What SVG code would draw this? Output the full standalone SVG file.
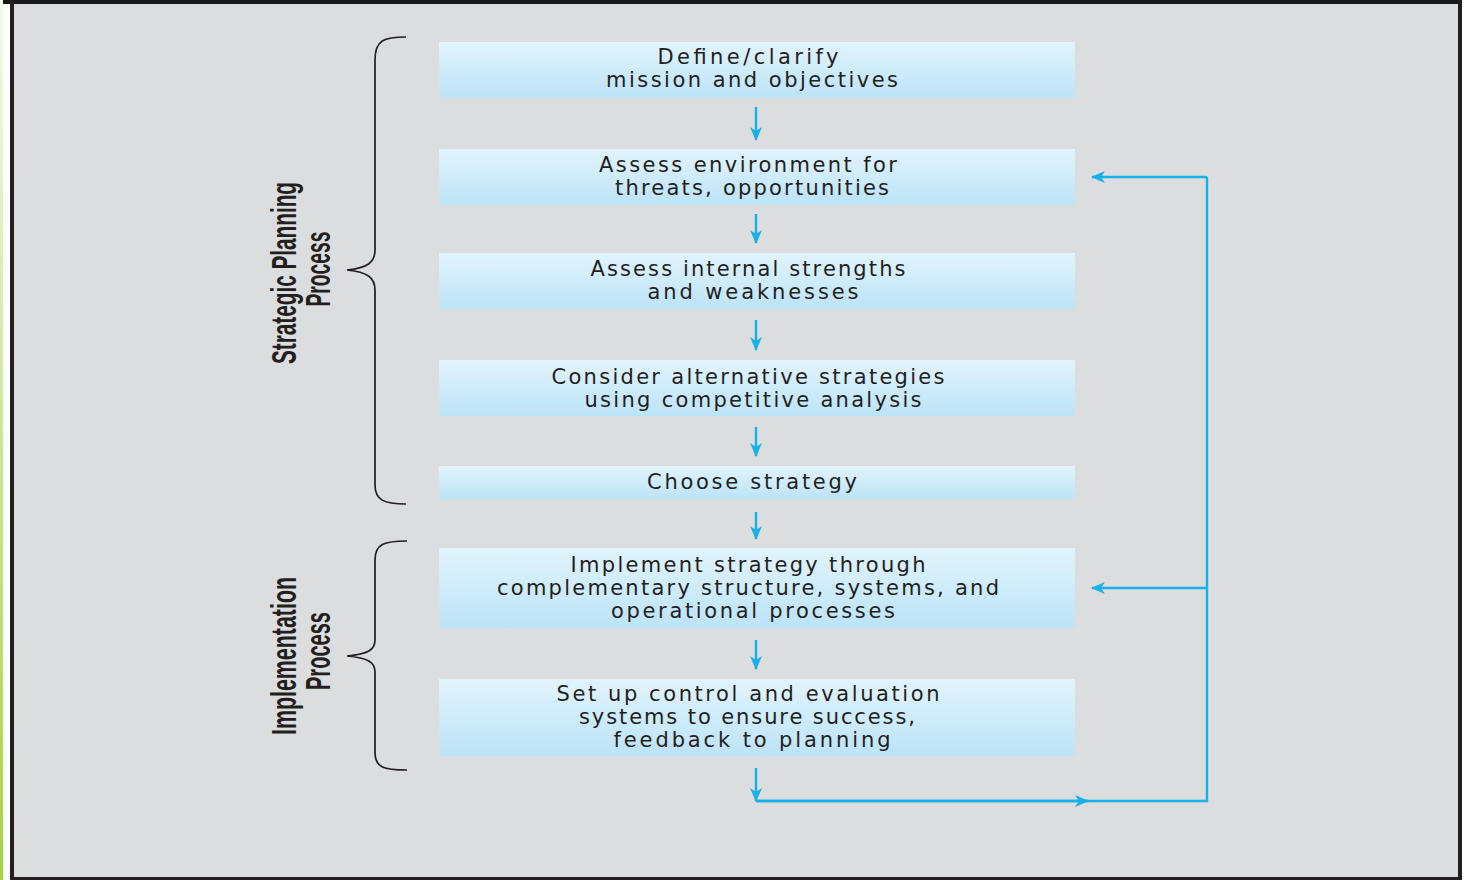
<svg xmlns="http://www.w3.org/2000/svg" width="1466" height="880" viewBox="0 0 1466 880">
  <defs>
    <linearGradient id="boxFill" x1="0" y1="0" x2="0" y2="1">
      <stop offset="0" stop-color="#e2f4fd"/>
      <stop offset="1" stop-color="#bce3f7"/>
    </linearGradient>
    <linearGradient id="edge" x1="0" y1="0" x2="0" y2="1">
      <stop offset="0" stop-color="#f4f9ea"/>
      <stop offset="1" stop-color="#a6d43f"/>
    </linearGradient>
    <marker id="head" viewBox="0 0 14 12" refX="13" refY="6" markerWidth="14" markerHeight="12" markerUnits="userSpaceOnUse" orient="auto">
      <path d="M0,0 L14,6 L0,12 L4,6 Z" fill="#16b0ea"/>
    </marker>
  </defs>
  <style>
    .box { fill: url(#boxFill); }
    .label { font-family: "DejaVu Sans", "Liberation Sans", sans-serif; font-size: 21px; fill: #231f20; text-anchor: middle; }
    .side { font-family: "Liberation Sans", "DejaVu Sans", sans-serif; font-weight: bold; font-size: 35px; fill: #231f20; text-anchor: middle; }
    .flow { stroke: #16b0ea; stroke-width: 2.4; fill: none; }
    .brace { stroke: #231f20; stroke-width: 1.7; fill: none; }
  </style>

  <!-- frame -->
  <rect x="0" y="0" width="1466" height="880" fill="#ffffff"/>
  <rect x="0" y="0" width="3" height="880" fill="url(#edge)"/>
  <rect x="10" y="2" width="1452" height="878" fill="#dcdddf"/>
  <rect x="3" y="0" width="1459" height="4" fill="#161819"/>
  <rect x="10" y="0" width="4" height="880" fill="#231f20"/>
  <rect x="1458" y="0" width="4" height="880" fill="#231f20"/>
  <rect x="10" y="877" width="1452" height="3" fill="#231f20"/>

  <!-- side labels and braces -->
  <g id="strategic-planning">
    <path class="brace" d="M406,37 C384,37 375,40 375,60 L375,250 C375,262 368,268 347,270 C368,272 375,278 375,290 L375,485 C375,500 384,504 406,504"/>
    <text class="side" transform="translate(296,273) rotate(-90)" textLength="182" lengthAdjust="spacingAndGlyphs">Strategic Planning</text>
    <text class="side" transform="translate(330,269) rotate(-90)" textLength="75" lengthAdjust="spacingAndGlyphs">Process</text>
  </g>
  <g id="implementation">
    <path class="brace" d="M407,541 C384,541 375,544 375,560 L375,640 C375,650 368,654 347,656 C368,658 375,662 375,672 L375,752 C375,768 384,770 407,770"/>
    <text class="side" transform="translate(296,656) rotate(-90)" textLength="158" lengthAdjust="spacingAndGlyphs">Implementation</text>
    <text class="side" transform="translate(330,651) rotate(-90)" textLength="78" lengthAdjust="spacingAndGlyphs">Process</text>
  </g>

  <!-- steps -->
  <g id="define">
    <rect class="box" x="439" y="42" width="636" height="56"/>
    <text class="label" x="748" y="64" textLength="181" lengthAdjust="spacing">Define/clarify</text>
    <text class="label" x="752" y="87" textLength="292" lengthAdjust="spacing">mission and objectives</text>
  </g>
  <g id="assess-env">
    <rect class="box" x="439" y="149" width="636" height="56"/>
    <text class="label" x="748" y="172" textLength="298" lengthAdjust="spacing">Assess environment for</text>
    <text class="label" x="752" y="195" textLength="274" lengthAdjust="spacing">threats, opportunities</text>
  </g>
  <g id="assess-internal">
    <rect class="box" x="439" y="253" width="636" height="56"/>
    <text class="label" x="748" y="276" textLength="315" lengthAdjust="spacing">Assess internal strengths</text>
    <text class="label" x="753" y="299" textLength="211" lengthAdjust="spacing">and weaknesses</text>
  </g>
  <g id="consider">
    <rect class="box" x="439" y="360" width="636" height="56"/>
    <text class="label" x="748" y="384" textLength="393" lengthAdjust="spacing">Consider alternative strategies</text>
    <text class="label" x="753" y="407" textLength="337" lengthAdjust="spacing">using competitive analysis</text>
  </g>
  <g id="choose">
    <rect class="box" x="439" y="466" width="636" height="33"/>
    <text class="label" x="752" y="489" textLength="210" lengthAdjust="spacing">Choose strategy</text>
  </g>
  <g id="implement">
    <rect class="box" x="439" y="548" width="636" height="80"/>
    <text class="label" x="748" y="572" textLength="355" lengthAdjust="spacing">Implement strategy through</text>
    <text class="label" x="748" y="595" textLength="502" lengthAdjust="spacing">complementary structure, systems, and</text>
    <text class="label" x="753" y="618" textLength="284" lengthAdjust="spacing">operational processes</text>
  </g>
  <g id="control">
    <rect class="box" x="439" y="679" width="636" height="77"/>
    <text class="label" x="748" y="701" textLength="383" lengthAdjust="spacing">Set up control and evaluation</text>
    <text class="label" x="747" y="724" textLength="336" lengthAdjust="spacing">systems to ensure success,</text>
    <text class="label" x="752" y="747" textLength="277" lengthAdjust="spacing">feedback to planning</text>
  </g>

  <!-- connectors -->
  <g id="connectors">
    <line class="flow" x1="756" y1="107" x2="756" y2="140" marker-end="url(#head)"/>
    <line class="flow" x1="756" y1="214" x2="756" y2="243" marker-end="url(#head)"/>
    <line class="flow" x1="756" y1="320" x2="756" y2="350" marker-end="url(#head)"/>
    <line class="flow" x1="756" y1="427" x2="756" y2="456" marker-end="url(#head)"/>
    <line class="flow" x1="756" y1="512" x2="756" y2="539" marker-end="url(#head)"/>
    <line class="flow" x1="756" y1="640" x2="756" y2="669" marker-end="url(#head)"/>
    <line class="flow" x1="756" y1="768" x2="756" y2="801" marker-end="url(#head)"/>
    <!-- feedback loop -->
    <polyline class="flow" points="756,801 1207,801 1207,177"/>
    <line class="flow" x1="756" y1="801" x2="1088" y2="801" marker-end="url(#head)"/>
    <line class="flow" x1="1207" y1="177" x2="1092" y2="177" marker-end="url(#head)"/>
    <line class="flow" x1="1207" y1="588" x2="1092" y2="588" marker-end="url(#head)"/>
  </g>
</svg>
